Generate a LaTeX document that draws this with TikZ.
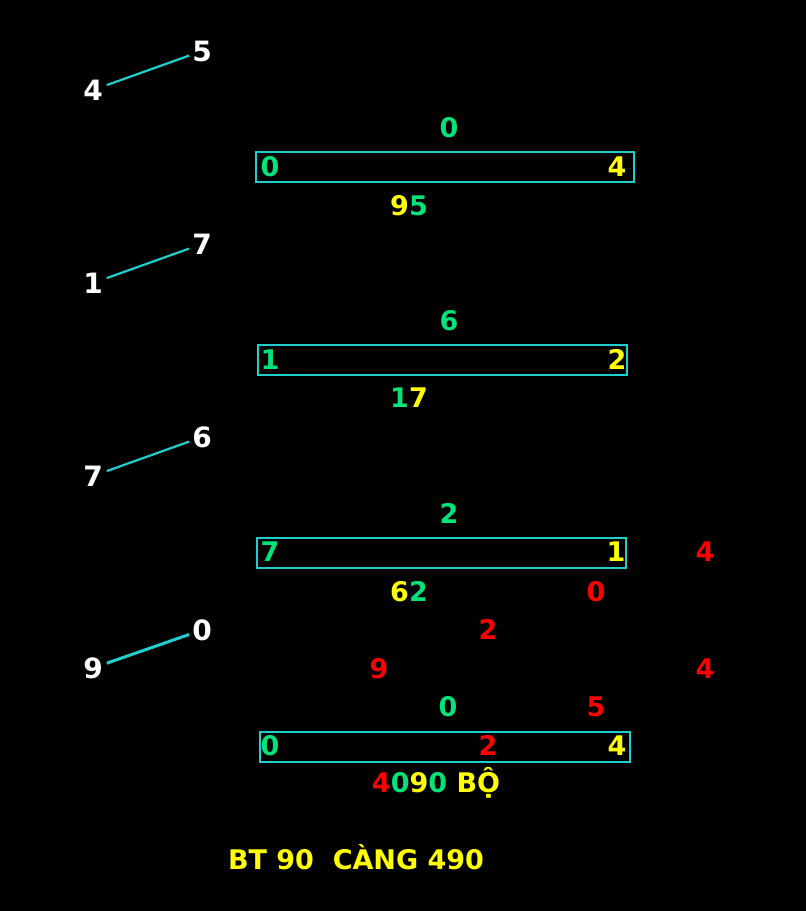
\documentclass[tikz,border=0pt]{standalone}
\usepackage{fontspec}
\setmainfont{DejaVu Sans}
\usepackage{tikz}
\usetikzlibrary{positioning}
\definecolor{lineC}{RGB}{32,206,206}
\definecolor{digG}{RGB}{0,226,122}
\definecolor{digY}{RGB}{255,255,0}
\definecolor{digR}{RGB}{255,0,0}
\newcommand{\gr}[1]{\textcolor{digG}{#1}}
\newcommand{\ye}[1]{\textcolor{digY}{#1}}
\newcommand{\re}[1]{\textcolor{digR}{#1}}

\begin{document}
\begin{tikzpicture}[x=1pt, y=-1pt,
  every node/.style={font=\bfseries\fontsize{27}{30}\selectfont, inner sep=1pt,
    text height=19.7pt, text depth=0pt},
  wlab/.style={text=white, font=\bfseries\fontsize{28}{30}\selectfont,
    text height=20.4pt},
  link/.style={lineC, line width=2.2pt, shorten <=3pt, shorten >=2pt},
  rowbox/.style={draw=lineC, line width=2pt, minimum height=30pt}]
  \useasboundingbox[fill=black] (0,0) rectangle (806,911);

  % first block
  \node[wlab] (a4) at (93,90)  {4};
  \node[wlab] (a5) at (202,51) {5};
  \draw[link] (a4)--(a5);
  \node[text=digG] (t1) at (449,128) {0};
  \node[rowbox, minimum width=378pt] (b1) at (445,167) {};
  \node[text=digG] (l1) at (270,167) {0};
  \node[text=digY] (r1) at (617,167) {4};
  \node (s1) at (409,206) {\ye{9}\gr{5}};

  % second block
  \node[wlab] (a1) at (93,283)  {1};
  \node[wlab] (a7) at (202,244) {7};
  \draw[link] (a1)--(a7);
  \node[text=digG] (t2) at (449,321) {6};
  \node[rowbox, minimum width=369pt] (b2) at (442.5,359.5) {};
  \node[text=digG] (l2) at (270,360) {1};
  \node[text=digY] (r2) at (617,360) {2};
  \node (s2) at (409,398) {\gr{1}\ye{7}};

  % third block
  \node[wlab] (c7) at (93,476)  {7};
  \node[wlab] (c6) at (202,437) {6};
  \draw[link] (c7)--(c6);
  \node[text=digG] (t3) at (449,514) {2};
  \node[rowbox, minimum width=369pt] (b3) at (441.5,552.5) {};
  \node[text=digG] (l3) at (270,552) {7};
  \node[text=digY] (r3) at (616,552) {1};
  \node[text=digR] (x3) at (705,552) {4};
  \node (s3) at (409,592) {\ye{6}\gr{2}};
  \node[text=digR] (y3) at (596,592) {0};

  % fourth block
  \node[wlab] (d9) at (93,668)  {9};
  \node[wlab] (d0) at (202,630) {0};
  \draw[link, line width=3pt] (d9)--(d0);
  \node[text=digR] (u4) at (488,630) {2};
  \node[text=digR] (v4) at (379,669) {9};
  \node[text=digR] (w4) at (705,669) {4};
  \node[text=digG] (t4) at (448,707) {0};
  \node[text=digR] (z4) at (596,707) {5};
  \node[rowbox, minimum width=370pt] (b4) at (445,746.5) {};
  \node[text=digG] (l4) at (270,746) {0};
  \node[text=digR] (m4) at (488,746) {2};
  \node[text=digY] (r4) at (617,746) {4};
  \node (s4) at (436,783) {\re{4}\gr{0}\ye{9}\gr{0}\ \ye{BỘ}};

  \node[text=digY] (sum) at (356,860) {BT 90\ \ CÀNG 490};
\end{tikzpicture}
\end{document}
